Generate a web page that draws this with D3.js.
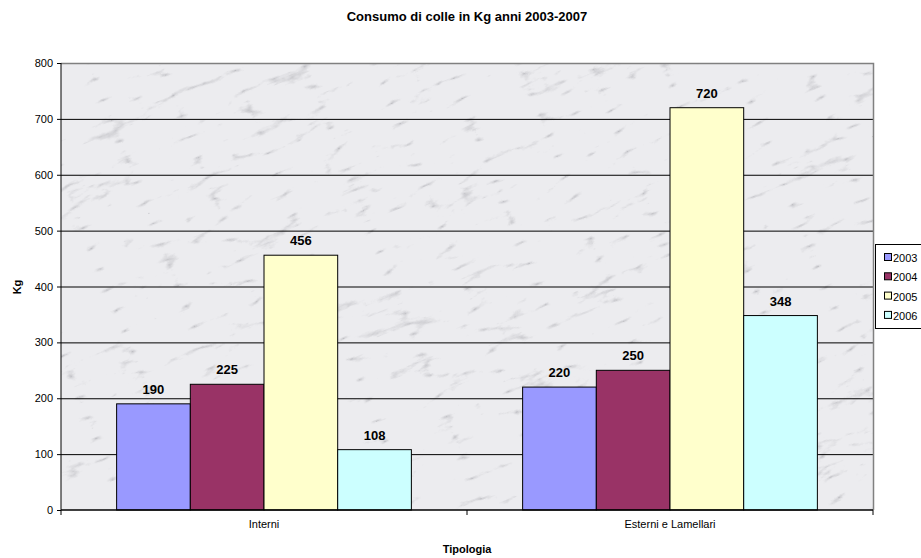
<!DOCTYPE html>
<html><head><meta charset="utf-8">
<script src="https://cdn.jsdelivr.net/npm/d3@7"></script>
<style>body{margin:0;background:#fff}svg{display:block;font-family:"Liberation Sans",Arial,sans-serif}</style>
</head><body><svg id="c" width="921" height="558"></svg>
<script>
const categories = ["Interni", "Esterni e Lamellari"];
const years = ["2003", "2004", "2005", "2006"];
const v2003 = [190, 220];
const v2004 = [225, 250];
const v2005 = [456, 720];
const v2006 = [108, 348];
const yTicks = [0,100,200,300,400,500,600,700,800];
const colors = ["#9999FF", "#993366", "#FFFFCC", "#CCFFFF"];
const seriesValues = [v2003, v2004, v2005, v2006];

const svg = d3.select("#c");
const m = {l:61, r:873, t:63, b:510};
const x0 = d3.scaleBand().domain(categories).range([m.l, m.r]).paddingInner(0).paddingOuter(0);
const gap = x0.bandwidth()*0.137;
const x1 = d3.scaleBand().domain(years).range([gap, x0.bandwidth()-gap]).paddingInner(0).paddingOuter(0);
const y = d3.scaleLinear().domain([0, 800]).range([m.b, m.t]);

// marble texture
const defs = svg.append("defs");
const f = defs.append("filter").attr("id","marble").attr("x",0).attr("y",0).attr("width","100%").attr("height","100%");
f.append("feTurbulence").attr("type","turbulence").attr("baseFrequency","0.015 0.045").attr("numOctaves",5).attr("seed",11).attr("result","t");
f.append("feColorMatrix").attr("in","t").attr("type","matrix")
 .attr("values","0 0 0 0 0.40  0 0 0 0 0.40  0 0 0 0 0.43  -2.2 -2.2 0 0 0.9").attr("result","c");
f.append("feComposite").attr("in","c").attr("in2","SourceGraphic").attr("operator","in");
const clip = defs.append("clipPath").attr("id","pc");
clip.append("rect").attr("x",m.l).attr("y",m.t).attr("width",m.r-m.l).attr("height",m.b-m.t);

svg.append("rect").attr("x",m.l).attr("y",m.t).attr("width",m.r-m.l).attr("height",m.b-m.t).attr("fill","#ececef");
svg.append("g").attr("clip-path","url(#pc)")
  .append("g").attr("transform",`rotate(-22 ${(m.l+m.r)/2} ${(m.t+m.b)/2})`)
  .append("rect").attr("x",m.l-200).attr("y",m.t-250).attr("width",m.r-m.l+400).attr("height",m.b-m.t+500)
  .attr("fill","#fff").attr("filter","url(#marble)").attr("opacity",0.75);

// gridlines
svg.append("g").selectAll("line").data(yTicks.filter(d=>d>0 && d<800)).join("line")
  .attr("x1",m.l).attr("x2",m.r).attr("y1",d=>y(d)+0.5).attr("y2",d=>y(d)+0.5)
  .attr("stroke","#000").attr("stroke-width",1);
// top & right border
svg.append("path").attr("d",`M${m.l},${m.t+0.5}H${m.r+0.5}V${m.b}`).attr("fill","none").attr("stroke","#808080").attr("stroke-width",1.5);

// bars
const g = svg.append("g");
categories.forEach((c,ci)=>{
  years.forEach((yr,si)=>{
    const v = seriesValues[si][ci];
    const bx = x0(c)+x1(yr);
    g.append("rect").attr("x",bx).attr("y",y(v)).attr("width",x1.bandwidth()).attr("height",y(0)-y(v))
     .attr("fill",colors[si]).attr("stroke","#000").attr("stroke-width",1);
    g.append("text").attr("x",bx+x1.bandwidth()/2).attr("y",y(v)-10).attr("text-anchor","middle")
     .attr("font-size",13).attr("font-weight","bold").text(v);
  });
});

// axes
const ya = d3.axisLeft(y).tickValues(yTicks).tickSize(4).tickPadding(4);
const yg = svg.append("g").attr("transform",`translate(${m.l},0)`).call(ya);
yg.select(".domain").attr("stroke","#000").attr("d",`M0,${m.t}V${m.b}`);
yg.selectAll("text").attr("font-size",11).attr("fill","#000").style("font-family","'Liberation Sans', Arial, sans-serif");
const xa = d3.axisBottom(x0).tickSize(0).tickPadding(10);
const xg = svg.append("g").attr("transform",`translate(0,${m.b})`).call(xa);
xg.select(".domain").attr("stroke","#000").attr("stroke-width",1.5).attr("d",`M${m.l},0H${m.r}`);
xg.selectAll("text").attr("font-size",11).attr("fill","#000").style("font-family","'Liberation Sans', Arial, sans-serif");
svg.append("g").selectAll("line").data([m.l, x0(categories[1]), m.r]).join("line")
  .attr("x1",d=>d).attr("x2",d=>d).attr("y1",m.b).attr("y2",m.b+5).attr("stroke","#000");

// titles
svg.append("text").attr("x",467).attr("y",21).attr("text-anchor","middle").attr("font-size",13).attr("font-weight","bold").text("Consumo di colle in Kg anni 2003-2007");
svg.append("text").attr("x",467).attr("y",553).attr("text-anchor","middle").attr("font-size",11).attr("font-weight","bold").text("Tipologia");
svg.append("text").attr("transform","translate(21,287) rotate(-90)").attr("text-anchor","middle").attr("font-size",11).attr("font-weight","bold").text("Kg");

// legend
const lg = svg.append("g");
lg.append("rect").attr("x",875.5).attr("y",244.5).attr("width",60).attr("height",84).attr("fill","#fff").attr("stroke","#000");
years.forEach((yr,i)=>{
  const ly = 258 + i*19.3;
  lg.append("rect").attr("x",884.5).attr("y",ly-4.5).attr("width",7).attr("height",7).attr("fill",colors[i]).attr("stroke","#000");
  lg.append("text").attr("x",893).attr("y",ly+4).attr("font-size",11).text(yr);
});
</script></body></html>
